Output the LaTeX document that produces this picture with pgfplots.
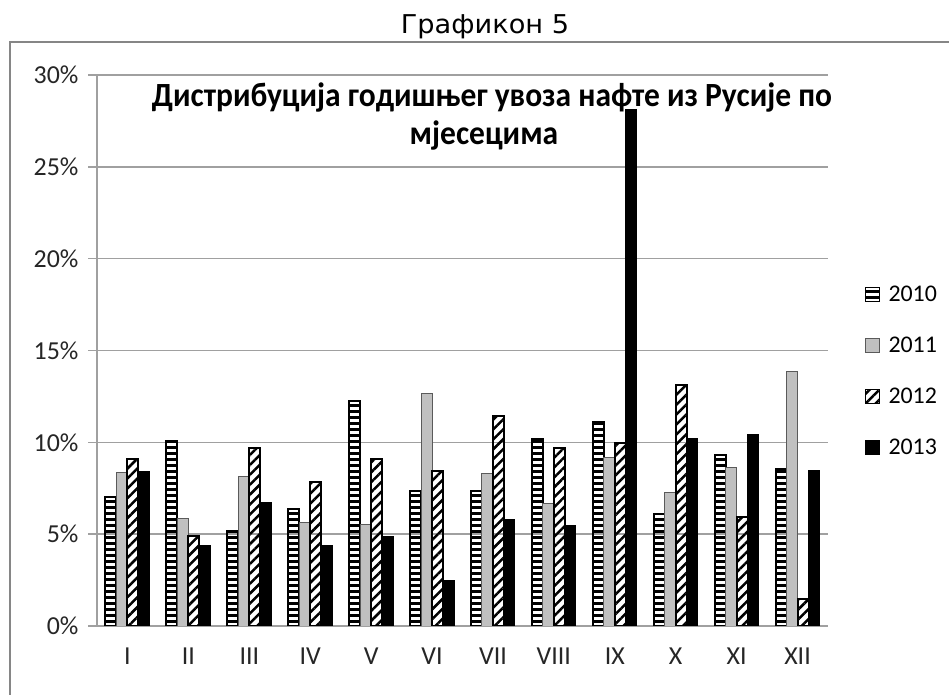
\documentclass[border=0pt]{standalone}
\usepackage{fontspec}
\setmainfont{Carlito}
\newfontfamily\djv{DejaVu Sans}
\usepackage{graphicx}
\usepackage{pgfplots}
\pgfplotsset{compat=1.18}
\usetikzlibrary{patterns,patterns.meta}
\pgfdeclarepatternformonly{hstripes}{\pgfpoint{-2bp}{-1bp}}{\pgfpoint{8bp}{7bp}}{\pgfpoint{6bp}{6bp}}{%
  \pgfpathrectangle{\pgfpoint{-2bp}{0bp}}{\pgfpoint{10bp}{3bp}}\pgfusepath{fill}}
\definecolor{gridgray}{RGB}{160,160,160}
\definecolor{boxgray}{RGB}{134,134,134}
\definecolor{barg}{RGB}{192,192,192}
\definecolor{bargd}{RGB}{90,90,90}
\begin{document}
\begin{tikzpicture}
\useasboundingbox (0,0) rectangle (949bp,695bp);
\fill[white] (0,0) rectangle (949bp,695bp);
\draw[boxgray, line width=2bp] (10bp,-5bp) -- (10bp,653bp) -- (955bp,653bp);
\node[font=\djv\fontsize{26}{30}\selectfont, anchor=base] at (485bp,661bp) {\scalebox{1.05}[1]{Графикон 5}};
\begin{axis}[
 at={(97bp,69bp)}, anchor=south west, scale only axis,
 width=731bp, height=551bp,
 xmin=0.5, xmax=12.5, ymin=0, ymax=30,
 axis x line*=bottom, axis y line*=left,
 xtick pos=bottom, ytick pos=left,
 axis line style={gridgray, line width=1.5bp},
 xtick={1,...,12},
 xticklabels={I,II,III,IV,V,VI,VII,VIII,IX,X,XI,XII},
 xtick style={draw=none},
 minor xtick={0.5,1.5,...,12.5},
 minor tick length=6bp,
 major tick length=9bp,
 tick align=outside,
 tick style={gridgray, line width=1.5bp},
 ytick={0,5,10,15,20,25,30},
 yticklabels={0\%,5\%,10\%,15\%,20\%,25\%,30\%},
 ymajorgrids, grid style={gridgray, line width=1.5bp},
 ticklabel style={font=\fontsize{26}{30}\selectfont, text=black!85},
 xticklabel style={yshift=-9bp},
 yticklabel style={xshift=-6bp},
 ybar=0pt, bar width=11bp,
 legend style={at={(1.050,0.463)}, anchor=west, draw=none, fill=none,
   font=\fontsize{24}{28}\selectfont, row sep=30bp, cells={anchor=west},
   inner xsep=0pt},
 legend image code/.code={\draw[#1, line width=1.5bp] (0bp,-7bp) rectangle (14bp,7bp); \node[inner sep=0pt, minimum size=0pt, draw=none, fill=none] at (20bp,0bp) {};},
]
\addplot[draw=black, line width=2bp, pattern=hstripes, pattern color=black]
 coordinates {(1,7.03) (2,10.07) (3,5.16) (4,6.39) (5,12.27) (6,7.35) (7,7.35) (8,10.16) (9,11.1) (10,6.1) (11,9.33) (12,8.53)};
\addplot[draw=bargd, line width=1bp, fill=barg]
 coordinates {(1,8.37) (2,5.85) (3,8.13) (4,5.62) (5,5.54) (6,12.68) (7,8.3) (8,6.65) (9,9.2) (10,7.28) (11,8.62) (12,13.88)};
\addplot[draw=black, line width=2bp, pattern={Lines[angle=45,distance=7bp,line width=2.5bp]}, pattern color=black]
 coordinates {(1,9.08) (2,4.91) (3,9.67) (4,7.83) (5,9.11) (6,8.42) (7,11.41) (8,9.67) (9,9.96) (10,13.13) (11,5.92) (12,1.45)};
\addplot[draw=black, line width=1bp, fill=black]
 coordinates {(1,8.39) (2,4.38) (3,6.74) (4,4.38) (5,4.85) (6,2.5) (7,5.8) (8,5.47) (9,28.1) (10,10.2) (11,10.43) (12,8.46)};
\legend{2010,2011,2012,2013}
\end{axis}
\node[font=\bfseries\fontsize{34}{39}\selectfont, anchor=base] at (492bp,588bp) {\scalebox{0.93}[1]{Дистрибуција годишњег увоза нафте из Русије по}};
\node[font=\bfseries\fontsize{34}{39}\selectfont, anchor=base] at (484bp,550bp) {\scalebox{0.93}[1]{мјесецима}};
\end{tikzpicture}
\end{document}
